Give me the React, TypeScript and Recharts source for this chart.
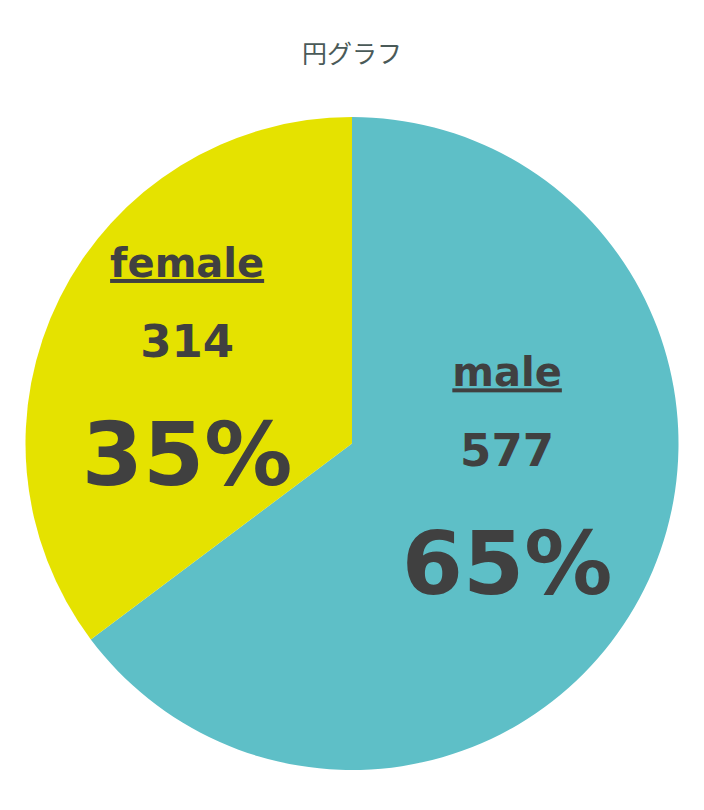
import { PieChart, Pie, Cell } from "recharts";

const CATEGORIES = ["male", "female"];
const COUNTS = [577, 314];
const PERCENT_LABELS = ["65%", "35%"];
const TITLE = "円グラフ";

const COLORS = ["#5ebfc7", "#e5e200"];
const TEXT_COLOR = "#404040";

// label anchor (middle line baseline) as a fraction of the radius, per slice
const LABEL_ANCHOR = [
  { fx: 0.475, fy: 0.07 },
  { fx: -0.505, fy: -0.265 },
];

const WIDTH = 704;
const HEIGHT = 810;

const data = CATEGORIES.map((name, i) => ({
  name,
  value: COUNTS[i],
  pct: PERCENT_LABELS[i],
}));

const renderLabel = (props: any) => {
  const { cx, cy, outerRadius, index } = props;
  const a = LABEL_ANCHOR[index];
  const x = cx + outerRadius * a.fx;
  const y = cy + outerRadius * a.fy;
  const d = data[index];
  return (
    <g key={`lbl-${index}`} fontFamily="'DejaVu Sans', Verdana, sans-serif" fontWeight="bold" fill={TEXT_COLOR}>
      <text x={x} y={y - 80} textAnchor="middle" fontSize={40} textDecoration="underline">
        {d.name}
      </text>
      <text x={x} y={y} textAnchor="middle" fontSize={45}>
        {d.value}
      </text>
      <text x={x} y={y + 128} textAnchor="middle" fontSize={88}>
        {d.pct}
      </text>
    </g>
  );
};

export default function App() {
  return (
    <div style={{ position: "absolute", left: 0, top: 0, width: WIDTH, height: HEIGHT, background: "#fff" }}>
      <div
        style={{
          position: "absolute",
          top: 34,
          left: 0,
          width: WIDTH,
          textAlign: "center",
          fontFamily: "'Noto Sans CJK JP', sans-serif",
          fontSize: 25,
          color: "#4a5a58",
          lineHeight: "36px",
        }}
      >
        {TITLE}
      </div>
      <PieChart width={WIDTH} height={HEIGHT} margin={{ top: 0, right: 0, bottom: 0, left: 0 }}>
        <Pie
          data={data}
          dataKey="value"
          nameKey="name"
          cx={352}
          cy={443.5}
          outerRadius={326.5}
          startAngle={90}
          endAngle={-270}
          stroke="none"
          label={renderLabel}
          labelLine={false}
          isAnimationActive={false}
        >
          {data.map((d, i) => (
            <Cell key={d.name} fill={COLORS[i]} />
          ))}
        </Pie>
      </PieChart>
    </div>
  );
}
